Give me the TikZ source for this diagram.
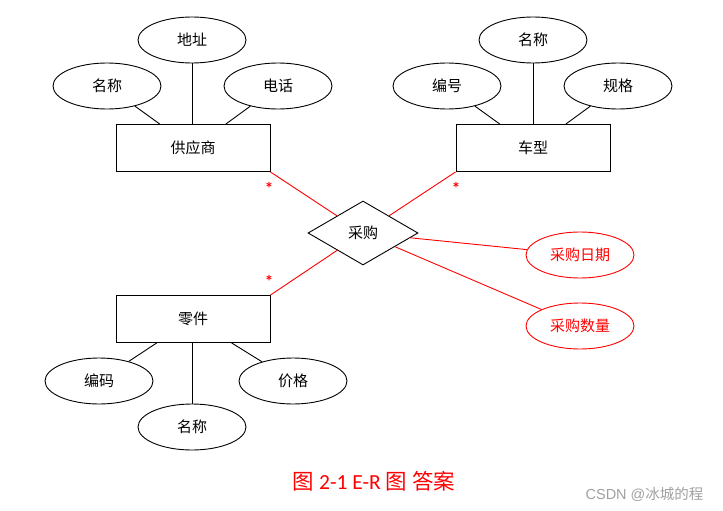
\documentclass[tikz,border=0pt]{standalone}
\usepackage{fontspec}
\setmainfont{Carlito}
\newfontfamily\cjk{Noto Sans CJK SC}
\newfontfamily\wmfont{Liberation Sans}
\usepackage{tikz}
\usetikzlibrary{
  shapes.geometric,
}
\definecolor{erred}{HTML}{FF0000}
\definecolor{wmgray}{HTML}{A0A0A0}

\begin{document}
\begin{tikzpicture}[
    x=1pt, y=-1pt,
    entity/.style={rectangle, draw, line width=0.9pt, inner sep=0pt,
                   minimum width=154pt, minimum height=47pt,
                   font=\cjk\fontsize{15}{18}\selectfont},
    attr/.style={ellipse, draw, line width=0.9pt, inner sep=0pt,
                 minimum width=108pt, minimum height=46pt,
                 font=\cjk\fontsize{15}{18}\selectfont},
    redattr/.style={attr, draw=erred, text=erred},
    rel/.style={diamond, draw, line width=0.9pt, inner sep=0pt,
                minimum width=110pt, minimum height=64pt,
                font=\cjk\fontsize{15}{18}\selectfont},
    link/.style={line width=0.9pt},
    redlink/.style={line width=0.9pt, draw=erred},
    card/.style={text=erred, inner sep=0pt, font=\bfseries\fontsize{17}{17}\selectfont},
  ]
  \useasboundingbox (0,0) rectangle (723,511);

  % entities and relationship
  \node[entity] (gys) at (193,148) {供应商};
  \node[entity] (cx)  at (533,148) {车型};
  \node[entity] (lj)  at (193,319) {零件};
  \node[rel]    (cg)  at (363,233) {采购};

  % attributes
  \node[attr] (gys-mc) at (107,86)  {名称};
  \node[attr] (gys-dz) at (192,40)  {地址};
  \node[attr] (gys-dh) at (278,86)  {电话};
  \node[attr] (cx-bh)  at (447,86)  {编号};
  \node[attr] (cx-mc)  at (533,40)  {名称};
  \node[attr] (cx-gg)  at (618,86)  {规格};
  \node[attr] (lj-bm)  at (99,381)  {编码};
  \node[attr] (lj-mc)  at (192,427) {名称};
  \node[attr] (lj-jg)  at (293,381) {价格};
  \node[redattr] (cg-rq) at (580,255) {采购日期};
  \node[redattr] (cg-sl) at (580,326) {采购数量};

  \draw[link] (gys-mc) -- (gys);
  \draw[link] (gys-dz) -- (gys-dz |- gys.north);
  \draw[link] (gys-dh) -- (gys);
  \draw[link] (cx-bh) -- (cx);
  \draw[link] (cx-mc) -- (cx-mc |- cx.north);
  \draw[link] (cx-gg) -- (cx);
  \draw[link] (lj-bm) -- (lj);
  \draw[link] (lj-mc) -- (lj-mc |- lj.south);
  \draw[link] (lj-jg) -- (lj);

  \draw[redlink] (gys.south east) -- (cg);
  \draw[redlink] (cx.south west) -- (cg);
  \draw[redlink] (lj.north east) -- (cg);
  \draw[redlink] (cg) -- (cg-rq);
  \draw[redlink] (cg) -- (cg-sl);

  % cardinalities
  \node[card] (n-gys) at (269,188) {*};
  \node[card] (n-cx)  at (456,188) {*};
  \node[card] (n-lj)  at (269,281) {*};

  % caption
  \node[text=erred, font=\fontsize{21.5}{24}\selectfont] (cap) at (374,481)
    {{\cjk 图} 2-1 E-R {\cjk 图} {\cjk 答案}};
  \node[text=wmgray, font=\wmfont\fontsize{14.5}{16}\selectfont, anchor=east] (wm) at (707,494)
    {CSDN @{\cjk 冰城的程}};
\end{tikzpicture}
\end{document}
